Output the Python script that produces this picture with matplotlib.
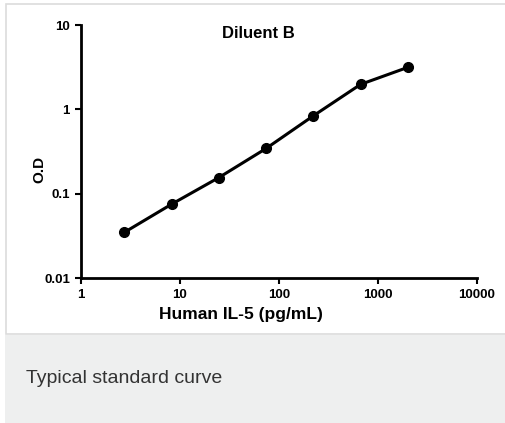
import matplotlib
matplotlib.use("Agg")
import matplotlib.pyplot as plt
from matplotlib.patches import Rectangle
from matplotlib import font_manager

concentration = [2.74, 8.23, 24.7, 74.1, 222.2, 666.7, 2000]
od = [0.035, 0.0755, 0.156, 0.345, 0.84, 1.98, 3.15]
xticks = [1, 10, 100, 1000, 10000]
xtick_labels = ["1", "10", "100", "1000", "10000"]
yticks = [0.01, 0.1, 1, 10]
ytick_labels = ["0.01", "0.1", "1", "10"]

plt.rcParams['font.family'] = ['Liberation Sans', 'DejaVu Sans']

# pick a narrow font for the caption if available
cap_family, cap_size = 'Liberation Sans', 14
for fam, size in [('Liberation Sans Narrow', 17.5), ('DejaVu Sans Condensed', 15)]:
    try:
        font_manager.findfont(font_manager.FontProperties(family=fam), fallback_to_default=False)
        cap_family, cap_size = fam, size
        break
    except Exception:
        pass
print(cap_family, cap_size)

W, H = 506, 423
fig = plt.figure(figsize=(W/100, H/100), dpi=100)
fig.patch.set_facecolor('white')

fig.patches.append(Rectangle((5/W, 0), 1 - 5/W, (H-335)/H, transform=fig.transFigure,
                             facecolor='#eeefef', edgecolor='none', zorder=-10))
fig.patches.append(Rectangle((6/W, (H-334)/H), 1, (334-4)/H, transform=fig.transFigure,
                             facecolor='white', edgecolor='#dcdcdc', lw=1.2, zorder=-10))

left, right, top, bottom = 81, 477, 25, 278.3
ax = fig.add_axes([left/W, 1 - bottom/H, (right-left)/W, (bottom-top)/H])
ax.set_zorder(5)
ax.set_facecolor('none')
ax.plot(concentration, od, color='black', lw=2.2, marker='o', markersize=7,
        markerfacecolor='black', markeredgecolor='black', clip_on=False)
ax.set_xscale('log')
ax.set_yscale('log')
ax.set_xlim(1, 10000)
ax.set_ylim(0.01, 10)
ax.set_xticks(xticks)
ax.set_xticklabels(xtick_labels)
ax.set_yticks(yticks)
ax.set_yticklabels(ytick_labels)
ax.minorticks_off()
for s in ['top', 'right']:
    ax.spines[s].set_visible(False)
for s in ['left', 'bottom']:
    ax.spines[s].set_linewidth(2)
ax.tick_params(axis='both', direction='out', length=4, width=1.5, labelsize=9.5, pad=4)
for lab in ax.get_xticklabels() + ax.get_yticklabels():
    lab.set_fontweight('bold')

fig.text(258/W, 1 - 34/H, "Diluent B", ha='center', va='center', fontsize=12, fontweight='bold')
fig.text(241/W, 1 - 315/H, "Human IL-5 (pg/mL)", ha='center', va='center', fontsize=12.5, fontweight='bold')
fig.text(39/W, 1 - 169.5/H, "O.D", ha='center', va='center', fontsize=11, fontweight='bold', rotation=90)
fig.text(26/W, 1 - 378/H, "Typical standard curve", ha='left', va='center',
         fontsize=cap_size, color='#333333', family=cap_family)

fig.savefig('out.png', dpi=100)
